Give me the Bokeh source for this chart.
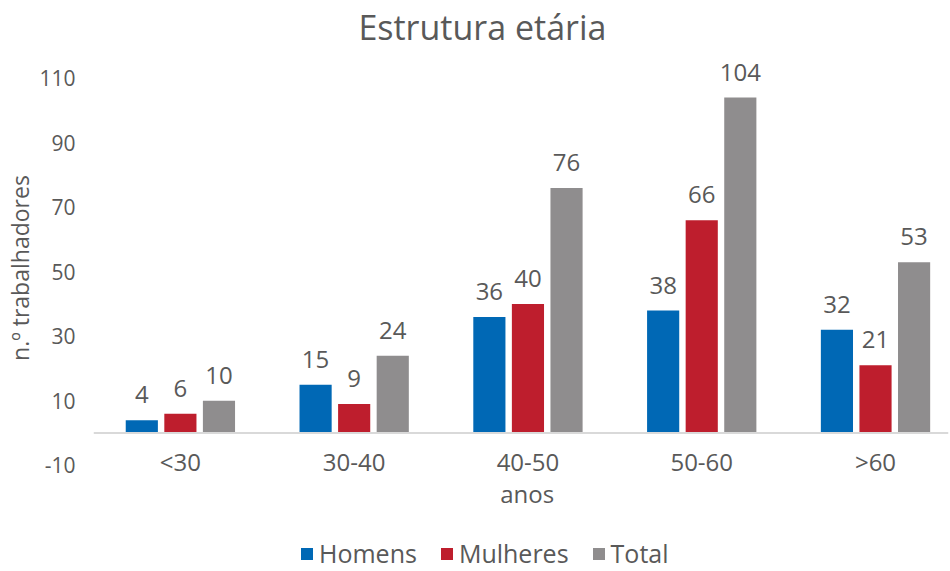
from bokeh.plotting import figure
from bokeh.models import (Range1d, FixedTicker, Span, ColumnDataSource, LabelSet,
                          Legend, LegendItem, Label)
from bokeh.core.properties import value
from bokeh.embed import file_html
from bokeh.resources import INLINE

categories = ["<30", "30-40", "40-50", "50-60", ">60"]
series_names = ["Homens", "Mulheres", "Total"]
homens = [4, 15, 36, 38, 32]
mulheres = [6, 9, 40, 66, 21]
total = [10, 24, 76, 104, 53]
y_ticks = [-10, 10, 30, 50, 70, 90, 110]

colors = ["#0068B5", "#BE1E2D", "#8F8D8E"]
FONT = "Open Sans"
TXT = "#595959"
NB = "\u00a0"

p = figure(width=950, height=571, title=None,
           x_range=Range1d(-0.5, 4.42), y_range=Range1d(-42.9, 134.1),
           output_backend="svg", toolbar_location=None,
           min_border_left=93, min_border_right=2, min_border_top=0,
           min_border_bottom=0)
p.outline_line_color = None
p.xgrid.visible = False
p.ygrid.visible = False

idx = list(range(len(categories)))
offsets = [-0.222, 0.0, 0.222]
bar_w = 0.185
items = []
for name, vals, off, col in zip(series_names, [homens, mulheres, total], offsets, colors):
    src = ColumnDataSource(dict(x=[i + off for i in idx], top=vals,
                                lbl=[str(v) for v in vals]))
    r = p.vbar(x="x", top="top", bottom=0, width=bar_w, source=src,
               fill_color=col, line_color=None)
    items.append(LegendItem(label=name, renderers=[r]))
    p.add_layout(LabelSet(x="x", y="top", text="lbl", source=src, y_offset=17,
                          text_align="center", text_baseline="alphabetic",
                          text_font=value(FONT), text_font_size=value("24px"),
                          text_color=TXT))

p.add_layout(Span(location=0, dimension="width", line_color="#D9D9D9", line_width=2))

# y axis
p.yaxis.ticker = FixedTicker(ticks=y_ticks)
p.yaxis.major_label_overrides = {t: str(t) for t in y_ticks}
p.yaxis.axis_line_color = None
p.yaxis.major_tick_line_color = None
p.yaxis.minor_tick_line_color = None
p.yaxis.major_tick_out = 0
p.yaxis.major_label_standoff = 18
p.yaxis.major_label_text_font = FONT
p.yaxis.major_label_text_font_size = "21px"
p.yaxis.major_label_text_color = TXT
p.yaxis.axis_label = NB * 6 + "n.º trabalhadores"
p.yaxis.axis_label_text_font = FONT
p.yaxis.axis_label_text_font_size = "23px"
p.yaxis.axis_label_text_font_style = "normal"
p.yaxis.axis_label_text_color = TXT
p.yaxis.axis_label_standoff = 0

# x axis (drawn inside the frame, just under the zero line)
p.xaxis.fixed_location = -3.8
p.xaxis.ticker = FixedTicker(ticks=idx)
p.xaxis.major_label_overrides = {i: c for i, c in enumerate(categories)}
p.xaxis.axis_line_color = None
p.xaxis.major_tick_line_color = None
p.xaxis.minor_tick_line_color = None
p.xaxis.major_tick_out = 0
p.xaxis.major_label_standoff = 0
p.xaxis.major_label_text_font = FONT
p.xaxis.major_label_text_font_size = "24px"
p.xaxis.major_label_text_color = TXT
p.xaxis.axis_label = NB * 2 + "anos"
p.xaxis.axis_label_text_font = FONT
p.xaxis.axis_label_text_font_size = "24px"
p.xaxis.axis_label_text_font_style = "normal"
p.xaxis.axis_label_text_color = TXT
p.xaxis.axis_label_standoff = -5

# title
p.add_layout(Label(x=1.738, y=125.8, text="Estrutura etária", text_align="center",
                   text_baseline="middle", text_font=FONT,
                   text_font_size="34px", text_color=TXT))

legend = Legend(items=items, orientation="horizontal", location=(206, 1),
                border_line_color=None, background_fill_alpha=0,
                label_text_font=FONT, label_text_font_size="25px",
                label_text_color=TXT, glyph_width=15, glyph_height=15,
                spacing=22, padding=0, margin=0, label_standoff=5)
p.add_layout(legend, "center")

open("out.html", "w").write(file_html(p, INLINE))
